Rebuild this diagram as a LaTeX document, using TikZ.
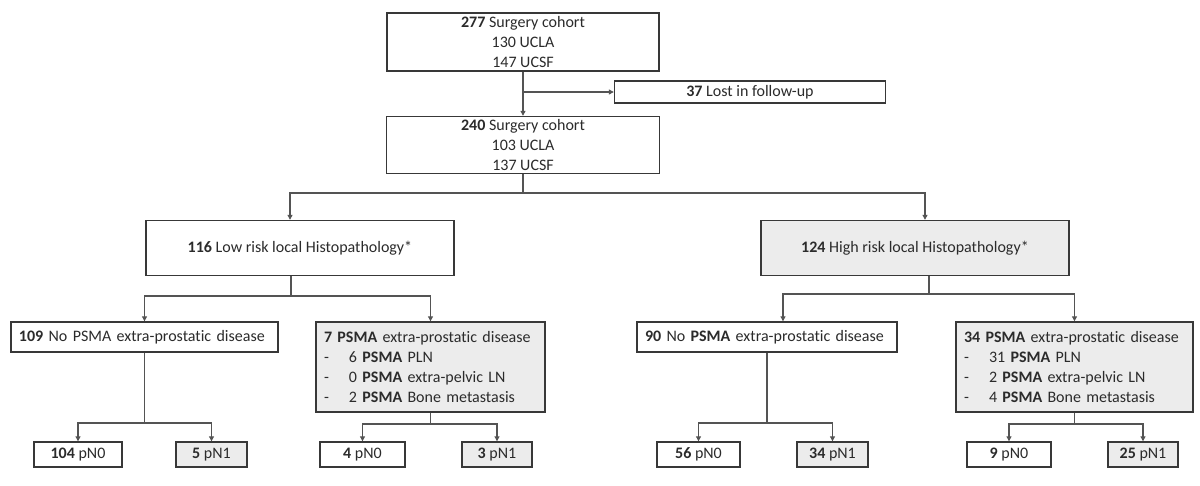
\documentclass[tikz,border=0pt]{standalone}
\usepackage{fontspec}
\setmainfont{Carlito}[RawFeature={-liga}]
\usetikzlibrary{arrows.meta,calc}
\definecolor{TextClr}{rgb}{0.17,0.17,0.17}
\definecolor{BoxClr}{rgb}{0.22,0.22,0.22}
\definecolor{LinkClr}{rgb}{0.33,0.33,0.33}
\definecolor{ShadeClr}{rgb}{0.925,0.925,0.925}

\newcommand{\psitem}[1]{\makebox[25pt][l]{-}#1}

\begin{document}
\begin{tikzpicture}[x=1pt,y=-1pt,
  font=\fontsize{16}{20}\selectfont,
  box/.style={draw=BoxClr,line width=1.4pt,fill=white,text=TextClr,inner sep=0pt,align=center},
  shaded/.style={box,fill=ShadeClr},
  lbox/.style={inner xsep=8pt,align=left},
  link/.style={draw=LinkClr,line width=1.1pt},
  arr/.style={link,-{Triangle[length=5pt,width=5pt]}}]
\useasboundingbox (0,0) rectangle (1200,485);

\node[box,minimum width=272pt,minimum height=58pt] (top) at (523,42) {\textbf{277} Surgery cohort\\130 UCLA\\147 UCSF};
\node[box,minimum width=271pt,minimum height=22pt] (lost) at (750,92) {\textbf{37} Lost in follow-up};
\node[box,minimum width=273pt,minimum height=57pt] (mid) at (523,145) {\textbf{240} Surgery cohort\\103 UCLA\\137 UCSF};

\node[box,minimum width=308pt,minimum height=55pt] (low) at (300,248) {\textbf{116} Low risk local Histopathology*};
\node[shaded,minimum width=308pt,minimum height=55pt] (high) at (915,248) {\textbf{124} High risk local Histopathology*};

\node[box,lbox,text width=251pt,minimum height=30pt] (n109) at (144.5,337) {\textbf{109} No PSMA extra-prostatic disease};
\node[shaded,lbox,text width=213pt,minimum height=90pt] (p7) at (430.5,367) {\textbf{7 PSMA} extra-prostatic disease\\
  \psitem{6 \textbf{PSMA} PLN}\\
  \psitem{0 \textbf{PSMA} extra-pelvic LN}\\
  \psitem{2 \textbf{PSMA} Bone metastasis}};
\node[box,lbox,text width=244pt,minimum height=30pt] (n90) at (767,337) {\textbf{90} No \textbf{PSMA} extra-prostatic disease};
\node[shaded,lbox,text width=221pt,minimum height=90pt] (p34) at (1074.5,367) {\textbf{34 PSMA} extra-prostatic disease\\
  \psitem{31 \textbf{PSMA} PLN}\\
  \psitem{2 \textbf{PSMA} extra-pelvic LN}\\
  \psitem{4 \textbf{PSMA} Bone metastasis}};

\node[box,minimum width=88pt,minimum height=25pt] (l104) at (78,454.5) {\textbf{104} pN0};
\node[shaded,minimum width=71pt,minimum height=25pt] (l5) at (211.5,454.5) {\textbf{5} pN1};
\node[box,minimum width=85pt,minimum height=25pt] (l4) at (362.5,454.5) {\textbf{4} pN0};
\node[shaded,minimum width=70pt,minimum height=25pt] (l3) at (497,454.5) {\textbf{3} pN1};
\node[box,minimum width=83pt,minimum height=25pt] (l56) at (698.5,454.5) {\textbf{56} pN0};
\node[shaded,minimum width=71pt,minimum height=25pt] (l34) at (832.5,454.5) {\textbf{34} pN1};
\node[box,minimum width=84pt,minimum height=25pt] (l9) at (1009,454.5) {\textbf{9} pN0};
\node[shaded,minimum width=70pt,minimum height=25pt] (l25) at (1143,454.5) {\textbf{25} pN1};

% junctions
\coordinate (s0) at (523,193);
\coordinate (s2) at (291,296);
\coordinate (s3) at (929,294);
\coordinate (s4) at (144.5,423);
\coordinate (s5) at (430.5,424);
\coordinate (s6) at (767,423);
\coordinate (s7) at (1074.5,424);

\draw[arr] (top) -- (mid);
\draw[arr] (top.south |- lost.west) -- (lost);

\draw[link] (mid) -- (s0);
\draw[arr] (s0) -| ([xshift=-10pt]low.north);
\draw[arr] (s0) -| ([xshift=10pt]high.north);

\draw[link] (low.south -| s2) -- (s2);
\draw[arr] (s2) -| (n109);
\draw[arr] (s2) -| (p7);
\draw[link] (high.south -| s3) -- (s3);
\draw[arr] (s3) -| ([xshift=16pt]n90.north);
\draw[arr] (s3) -| (p34);

\draw[link] (n109) -- (s4);
\draw[arr] (s4) -| (l104);
\draw[arr] (s4) -| (l5);
\draw[link] (p7) -- (s5);
\draw[arr] (s5) -| (l4);
\draw[arr] (s5) -| (l3);
\draw[link] (n90) -- (s6);
\draw[arr] (s6) -| (l56);
\draw[arr] (s6) -| (l34);
\draw[link] (p34) -- (s7);
\draw[arr] (s7) -| (l9);
\draw[arr] (s7) -| (l25);

\end{tikzpicture}
\end{document}
